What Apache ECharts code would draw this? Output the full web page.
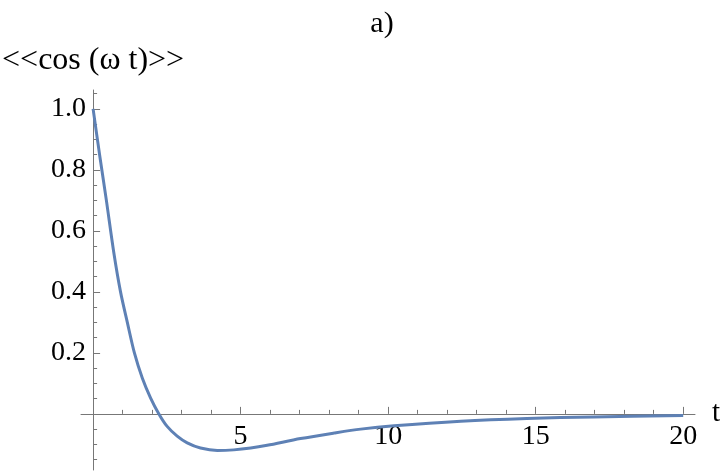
<!DOCTYPE html>
<html>
<head>
<meta charset="utf-8">
<script src="https://cdn.jsdelivr.net/npm/echarts@6/dist/echarts.min.js"></script>
<style>
  html, body { margin: 0; padding: 0; background: #fff; }
  #chart { width: 720px; height: 472px; }
</style>
</head>
<body>
<div id="chart"></div>
<script>
// values
const tValues = [0, 0.22, 0.45, 0.7, 0.93, 1.16, 1.4, 1.67, 1.95, 2.23, 2.51, 2.85, 3.19, 3.64, 4.21, 4.77, 5.34, 5.9, 7.03, 8.16, 9.07, 10.2, 12.46, 14.7, 16.96, 20];
const cosValues = [1.0, 0.85, 0.7, 0.53, 0.4, 0.3, 0.2, 0.117, 0.052, 0.0, -0.041, -0.073, -0.095, -0.112, -0.12, -0.118, -0.112, -0.103, -0.081, -0.063, -0.05, -0.039, -0.024, -0.015, -0.01, -0.005];

// tick labels / tick positions
const xMajorTicks = [5, 10, 15, 20];
const xMinorTicks = [1, 2, 3, 4, 6, 7, 8, 9, 11, 12, 13, 14, 16, 17, 18, 19];
const yMajorTicks = [0.2, 0.4, 0.6, 0.8, 1.0];
const yMinorTicks = [-0.15, -0.1, -0.05, 0.05, 0.1, 0.15, 0.25, 0.3, 0.35, 0.45, 0.5, 0.55, 0.65, 0.7, 0.75, 0.85, 0.9, 0.95, 1.05];

const xMin = -0.41, xMax = 20.4;
const yMin = -0.184, yMax = 1.062;

const axisColor = "#777";
const font = "Liberation Serif";

const gridLeft = 81, gridRight = 25, gridTop = 90, gridBottom = 2;
const gridW = 720 - gridLeft - gridRight;
const gridH = 472 - gridTop - gridBottom;

// ECharts v6 keeps labels at the grid edge even with onZero,
// so pull them back to the axis line that crosses at the origin
const xZeroToEdge = gridW * (0 - xMin) / (xMax - xMin);
const yZeroToEdge = gridH * (0 - yMin) / (yMax - yMin);

const chart = echarts.init(document.getElementById("chart"));

chart.setOption({
  animation: false,
  backgroundColor: "#fff",
  title: {
    text: "a)",
    left: 377,
    top: 4,
    textAlign: "center",
    textStyle: { fontFamily: font, fontSize: 30, fontWeight: "normal", color: "#000" },
  },
  grid: {
    left: gridLeft,
    right: gridRight,
    top: gridTop,
    bottom: gridBottom,
    containLabel: false,
    outerBoundsMode: "none",
  },
  xAxis: [
    {
      type: "value",
      min: xMin,
      max: xMax,
      position: "bottom",
      name: "t",
      nameLocation: "end",
      nameGap: 17,
      nameTextStyle: { fontFamily: font, fontSize: 29, color: "#000" },
      axisLine: { onZero: true, onZeroAxisIndex: 0, lineStyle: { color: axisColor, width: 1 } },
      axisTick: { inside: true, length: 7, customValues: xMajorTicks, lineStyle: { color: axisColor } },
      axisLabel: {
        customValues: xMajorTicks,
        margin: 9 - yZeroToEdge,
        fontFamily: font,
        fontSize: 28,
        color: "#000",
        hideOverlap: false,
      },
      splitLine: { show: false },
    },
    {
      // minor ticks
      type: "value",
      min: xMin,
      max: xMax,
      position: "bottom",
      axisLine: { show: false, onZero: true, onZeroAxisIndex: 0 },
      axisTick: { inside: true, length: 4, customValues: xMinorTicks, lineStyle: { color: axisColor } },
      axisLabel: { show: false },
      splitLine: { show: false },
    },
  ],
  yAxis: [
    {
      type: "value",
      min: yMin,
      max: yMax,
      position: "left",
      name: "<<cos (\u03c9 t)>>",
      nameLocation: "end",
      nameGap: 13,
      nameTextStyle: { fontFamily: font, fontSize: 32, color: "#000" },
      axisLine: { onZero: true, onZeroAxisIndex: 0, lineStyle: { color: axisColor, width: 1 } },
      axisTick: { inside: true, length: 7, customValues: yMajorTicks, lineStyle: { color: axisColor } },
      axisLabel: {
        customValues: yMajorTicks,
        margin: 7 - xZeroToEdge,
        fontFamily: font,
        fontSize: 28,
        color: "#000",
        hideOverlap: false,
        formatter: (v) => v.toFixed(1),
      },
      splitLine: { show: false },
    },
    {
      // minor ticks
      type: "value",
      min: yMin,
      max: yMax,
      position: "left",
      axisLine: { show: false, onZero: true, onZeroAxisIndex: 0 },
      axisTick: { inside: true, length: 4, customValues: yMinorTicks, lineStyle: { color: axisColor } },
      axisLabel: { show: false },
      splitLine: { show: false },
    },
  ],
  series: [
    {
      type: "line",
      xAxisIndex: 0,
      yAxisIndex: 0,
      data: tValues.map((t, i) => [t, cosValues[i]]),
      smooth: 0.3,
      showSymbol: false,
      lineStyle: { color: "#5e81b5", width: 3 },
    },
  ],
});
</script>
</body>
</html>
